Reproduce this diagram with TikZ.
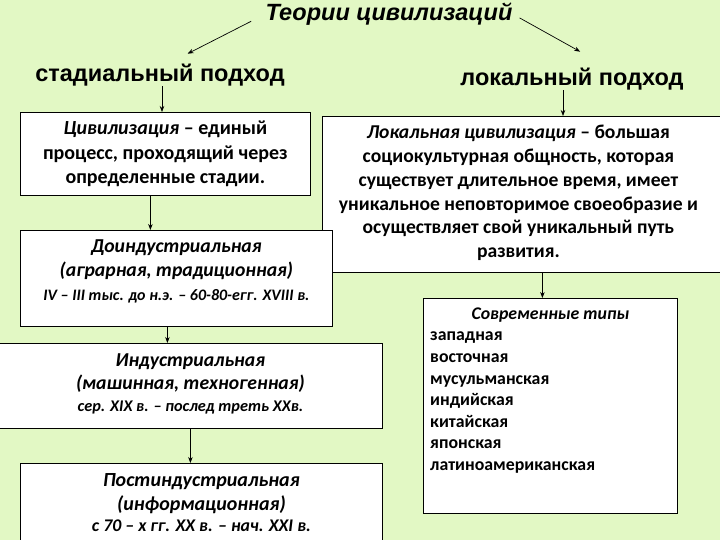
\documentclass[tikz,border=0pt]{standalone}
\usepackage{fontspec}
\setmainfont{Carlito}
\newfontfamily\headfont{Liberation Sans}
\usetikzlibrary{positioning, arrows.meta}
\definecolor{slideGreen}{HTML}{E2F8C4}

\begin{document}
\begin{tikzpicture}[x=1pt, y=-1pt,
    box/.style={draw=black, fill=white, line width=0.8pt, anchor=north west, inner sep=0pt},
    body/.style={align=center, inner sep=0pt, font=\bfseries\fontsize{20}{24.5}\selectfont},
    stage/.style={align=center, inner sep=0pt, font=\bfseries\itshape\fontsize{19.7}{23.5}\selectfont},
    head/.style={font=\headfont\bfseries\fontsize{23.5}{26}\selectfont, inner sep=0pt},
    arr/.style={-{Stealth[length=6pt, width=4.5pt]}, line width=0.7pt}]
  \fill[slideGreen] (0,0) rectangle (720,540);
  \useasboundingbox (0,0) rectangle (720,540);

  % title and the two approaches
  \node[font=\headfont\bfseries\itshape\fontsize{23.5}{26}\selectfont, inner sep=0pt]
    (theory) at (389,14) {Теории цивилизаций};
  \node[head] (stad) at (160,75) {стадиальный подход};
  \node[head] (lok) at (572,79) {локальный подход};
  \draw[arr, shorten <=16pt, shorten >=22pt] (theory.west) -- ([xshift=8pt]stad.north);
  \draw[arr, shorten <=8pt, shorten >=33pt] (theory.east) -- ([xshift=37pt]lok.north);

  % boxes
  \node[box, minimum width=290, minimum height=83] (stadbox) at (20,112) {};
  \node[box, minimum width=410, minimum height=156] (lokbox) at (322,116) {};
  \node[box, minimum width=312, minimum height=96] (doind) at (20,230) {};
  \node[box, minimum width=384, minimum height=85] (indust) at (-2,343) {};
  \node[box, minimum width=362, minimum height=90] (postind) at (20,463) {};
  \node[box, minimum width=254, minimum height=215] (types) at (423,298) {};

  % texts
  \node[body] (stadtext) at (stadbox.center)
    {\textit{Цивилизация} – единый\\процесс, проходящий через\\определенные стадии.};
  \node[body, font=\bfseries\fontsize{19.6}{23.8}\selectfont] (loktext) at ([xshift=-9pt]lokbox.center |- 0,193)
    {\textit{Локальная цивилизация} – большая\\социокультурная общность, которая\\существует длительное время, имеет\\уникальное неповторимое своеобразие и\\осуществляет свой уникальный путь\\развития.};
  \node[stage, below=10pt of doind.north] (doindtext)
    {Доиндустриальная\\(аграрная, традиционная)\\[1pt]{\fontsize{16}{19}\selectfont IV – III тыс. до н.э. – 60-80-егг. XVIII в.}};
  \node[stage, font=\bfseries\itshape\fontsize{19.7}{23}\selectfont, below=11pt of indust.north] (industtext)
    {Индустриальная\\(машинная, техногенная)\\[-1pt]{\fontsize{16.3}{19}\selectfont сер. XIX в. – послед треть XXв.}};
  \node[stage, font=\bfseries\itshape\fontsize{20}{24}\selectfont, below=10pt of postind.north] (postindtext)
    {Постиндустриальная\\(информационная)\\[-3pt]{\fontsize{17.8}{19}\selectfont с 70 – х гг. XX в. – нач. XXI в.}};
  \node[body, font=\bfseries\itshape\fontsize{17.8}{21.6}\selectfont, below=10pt of types.north] (typestitle)
    {Современные типы};
  \node[inner sep=0pt, anchor=north west, align=left, font=\bfseries\fontsize{17.8}{21.6}\selectfont]
    (typeslist) at (430,332)
    {западная\\восточная\\мусульманская\\индийская\\китайская\\японская\\латиноамериканская};

  % arrows between the boxes
  \draw[arr] ([xshift=2pt]stad.south) -- ([xshift=2pt]stad.south |- stadbox.north);
  \draw[arr] ([xshift=-9pt]lok.south) -- ([xshift=-9pt]lok.south |- lokbox.north);
  \draw[arr] ([xshift=-15pt]stadbox.south) -- ([xshift=-15pt]stadbox.south |- doind.north);
  \draw[arr] ([xshift=-9pt]doind.south) -- ([xshift=-9pt]doind.south |- indust.north);
  \draw[arr] (indust.south) -- (indust.south |- postind.north);
  \draw[arr] (lokbox.south -| types.north) ++(-8pt,0) coordinate (lokfoot)
    -- (lokfoot |- types.north);
\end{tikzpicture}
\end{document}
